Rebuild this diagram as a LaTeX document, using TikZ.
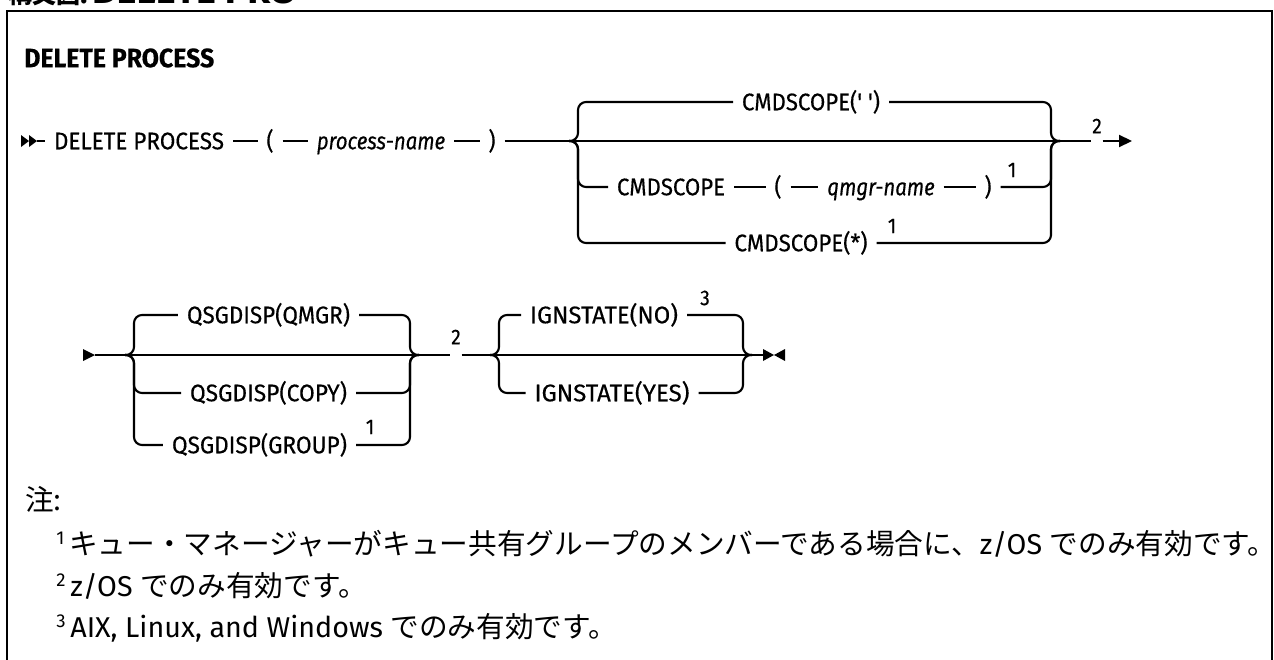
\documentclass[tikz,border=0pt]{standalone}
\usepackage{graphicx}
\usepackage{fontspec}
\setmainfont{Fira Sans}
\newfontfamily\labfam[FakeStretch=0.9,Ligatures=TeXOff,FakeBold=0.35]{Fira Sans}
\newfontfamily\itfam[FakeStretch=0.85,Ligatures=TeXOff,FakeBold=0.35]{Fira Sans Italic}
\newfontfamily\cjk{Noto Sans CJK JP}
\usetikzlibrary{arrows.meta}
\newlength\pxu
\setlength\pxu{0.75pt}
\newcommand{\fitw}[2]{\resizebox{#1\pxu}{\height}{#2}}
\begin{document}
\begin{tikzpicture}[x=0.75pt,y=-0.75pt,
  rail/.style={line width=1.6pt},
  rc/.style={rounded corners=6pt},
  lab/.style={font=\labfam\fontsize{18}{20}\selectfont, inner xsep=6.75pt, inner ysep=0pt, text height=14pt, text depth=1.6pt, outer sep=0pt},
  ilab/.style={lab, font=\itfam\fontsize{18}{20}\selectfont},
  fnum/.style={font=\labfam\fontsize{16}{17}\selectfont, inner xsep=0.5pt, inner ysep=0pt},
  note/.style={anchor=west, inner sep=0pt, text height=15pt, text depth=4.5pt, font=\fontsize{21.5}{23}\selectfont}
]
\useasboundingbox (0,0) rectangle (1274,660);
\fill[white] (0,0) rectangle (1274,660);
% cut caption and frame
\node[anchor=base west, inner sep=0pt, font=\bfseries\fontsize{22}{24}\selectfont] (cap) at (8,4) {{\cjk\bfseries\fontsize{18}{20}\selectfont 構文図}:\,\fitw{204}{DELETE PRO}};
\draw[line width=1.6pt] (7,700) -- (7,11) -- (1272,11) -- (1272,700);
% title
\node[anchor=west, inner sep=0pt, font=\labfam\bfseries\fontsize{20}{22}\selectfont] (title) at (24,58) {\fitw{190}{DELETE PROCESS}};

% ---------- row 1 ----------
\fill (21,135) -- (29,141) -- (21,147) -- cycle;
\fill (29,135) -- (37,141) -- (29,147) -- cycle;
\coordinate (start1) at (37,141);
\node[lab] (dp) at (139,141) {\fitw{170}{DELETE PROCESS}};
\node[lab] (lp1) at (270,141) {(};
\node[ilab] (pn) at (381,141) {process-name};
\node[lab] (rp1) at (492,141) {)};
\coordinate (j1l) at (569,141);
\coordinate (v1l) at (578,141);
\coordinate (v1r) at (1051,141);
\coordinate (j1r) at (1060,141);
\node[lab] (cs1) at (811,102) {\fitw{138}{CMDSCOPE(' ')}};
\node[lab] (cs2) at (671,187) {\fitw{108}{CMDSCOPE}};
\node[lab] (lp2) at (778,187) {(};
\node[ilab] (qn) at (881,187) {qmgr-name};
\node[lab] (rp2) at (988,187) {)};
\node[fnum] (f1a) at (1012,170) {1};
\node[lab] (cs3) at (801,243) {\fitw{133}{CMDSCOPE(*)}};
\node[fnum] (f1b) at (892,226) {1};
\node[fnum] (f2a) at (1097,126) {2};
\coordinate (end1) at (1132,141);

\draw[rail] (start1) -- (dp) -- (lp1) -- (pn) -- (rp1) -- (j1l) -- (j1r) -- (f2a.west |- j1r);
\draw[rail,-{Triangle[length=9.75pt,width=9pt]}] (f2a.east |- j1r) -- (end1);
\draw[rail,rc] (j1l) -| (v1l |- cs1) -- (cs1.west);
\draw[rail,rc] (cs1.east) -| (v1r) -- (j1r);
\draw[rail,rc] (j1l) -| (v1l |- cs2) -- (cs2.west);
\draw[rail] (cs2) -- (lp2) -- (qn) -- (rp2);
\draw[rail,rc] (rp2.east) -| (v1r) -- (j1r);
\draw[rail,rc] (j1l) -| (v1l |- cs3) -- (cs3.west);
\draw[rail,rc] (cs3.east) -| (v1r) -- (j1r);

% ---------- row 2 ----------
\fill (83,349) -- (95,355) -- (83,361) -- cycle;
\coordinate (start2) at (95,355);
\coordinate (j2l) at (125,355);
\coordinate (v2l) at (134,355);
\coordinate (v2r) at (410,355);
\coordinate (j2r) at (419,355);
\node[lab] (q1) at (268.5,315) {\fitw{163}{QSGDISP(QMGR)}};
\node[lab] (q2) at (268.5,393) {\fitw{157}{QSGDISP(COPY)}};
\node[lab] (q3) at (259.5,445) {\fitw{175}{QSGDISP(GROUP)}};
\node[fnum] (f1c) at (370,427) {1};
\node[fnum] (f2b) at (456,337) {2};
\coordinate (j3l) at (490,355);
\coordinate (v3l) at (499,355);
\coordinate (v3r) at (743,355);
\coordinate (j3r) at (752,355);
\node[lab] (ig1) at (604,315) {\fitw{148}{IGNSTATE(NO)}};
\node[fnum] (f3) at (705,298) {3};
\node[lab] (ig2) at (612,393) {\fitw{155}{IGNSTATE(YES)}};
\coordinate (end2) at (763,355);

\draw[rail] (start2) -- (j2l) -- (j2r) -- (f2b.west |- j2r);
\draw[rail] (f2b.east |- j2r) -- (j3l) -- (j3r) -- (end2);
\draw[rail,rc] (j2l) -| (v2l |- q1) -- (q1.west);
\draw[rail,rc] (q1.east) -| (v2r) -- (j2r);
\draw[rail,rc] (j2l) -| (v2l |- q2) -- (q2.west);
\draw[rail,rc] (q2.east) -| (v2r) -- (j2r);
\draw[rail,rc] (j2l) -| (v2l |- q3) -- (q3.west);
\draw[rail,rc] (q3.east) -| (v2r) -- (j2r);
\draw[rail,rc] (j3l) -| (v3l |- ig1) -- (ig1.west);
\draw[rail,rc] (ig1.east) -| (v3r) -- (j3r);
\draw[rail,rc] (j3l) -| (v3l |- ig2) -- (ig2.west);
\draw[rail,rc] (ig2.east) -| (v3r) -- (j3r);
\fill (763,349) -- (774,355) -- (763,361) -- cycle;
\fill (785,349) -- (774,355) -- (785,361) -- cycle;

% ---------- notes ----------
\node[note] (nh) at (25,503) {\cjk 注:};
\node[note] (n1) at (56,547) {\raisebox{7pt}{\fontsize{14}{14}\selectfont 1}\,{\cjk キュー・マネージャーがキュー共有グループのメンバーである場合に、}z/OS {\cjk でのみ有効です。}};
\node[note] (n2) at (56,589) {\raisebox{7pt}{\fontsize{14}{14}\selectfont 2}\,z/OS {\cjk でのみ有効です。}};
\node[note] (n3) at (56,630) {\raisebox{7pt}{\fontsize{14}{14}\selectfont 3}\,AIX, Linux, and Windows {\cjk でのみ有効です。}};
\end{tikzpicture}
\end{document}
